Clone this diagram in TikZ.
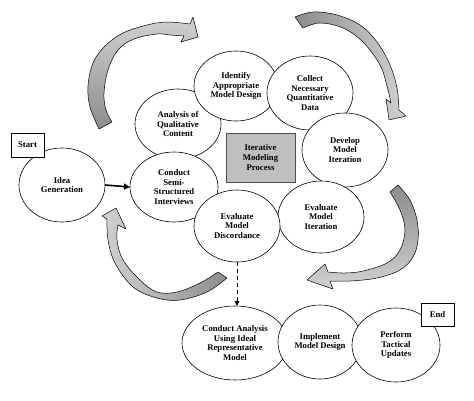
\documentclass[tikz,border=0pt]{standalone}
\usepackage{fontspec}
\setmainfont{Liberation Serif}
\usetikzlibrary{shapes.geometric,arrows.meta}
\definecolor{lightband}{gray}{0.82}
\definecolor{darkband}{gray}{0.55}
\begin{document}
\begin{tikzpicture}[x=1pt,y=-1pt,
  every node/.style={font=\fontsize{8.7}{9.8}\selectfont\bfseries, align=center},
  oval/.style={ellipse, draw, fill=white, line width=0.6pt, inner sep=0pt, outer sep=0pt},
  tag/.style={rectangle, draw, fill=white, line width=0.6pt, inner sep=0pt, minimum width=33pt, minimum height=24pt},
  band/.style={draw, line width=0.5pt, line join=round},
  smoothed/.style={smooth, tension=0.6}
]
\useasboundingbox (0,0) rectangle (474,400);

% curved block arrows
\path[band, top color=lightband, bottom color=darkband]
  plot[smoothed] coordinates {(99,129) (90,107) (88,86) (93,63) (105,46) (123,33) (147,25) (167,22) (190,24)}
  -- (193,17) -- (198,37) -- (181,42)
  -- plot[smoothed] coordinates {(184,36) (170,35) (157,34) (134,39) (118,50) (108,70) (104,93) (106,110) (112,122)}
  -- cycle;
\path[band, left color=darkband, right color=lightband]
  plot[smoothed] coordinates {(295,17) (313,12) (337,15) (360,25) (377,42) (390,65) (397,88) (399,110)}
  -- (406,116) -- (389,120) -- (386,99)
  -- plot[smoothed] coordinates {(391,103) (387,86) (380,65) (363,42) (343,28) (320,23) (303,28)}
  -- cycle;
\path[band, top color=darkband, bottom color=lightband]
  plot[smoothed] coordinates {(398,185) (410,200) (417,220) (418,240) (413,257) (400,270) (377,278) (350,281) (330,281)}
  -- (333,289) -- (307,280) -- (325,264)
  -- plot[smoothed] coordinates {(328,272) (345,273) (363,271) (387,263) (400,250) (405,230) (400,210) (390,192)}
  -- cycle;
\path[band, right color=darkband, left color=lightband]
  plot[smoothed] coordinates {(227,278) (207,292) (180,300) (157,298) (133,287) (115,263) (108,240) (107,219)}
  -- (102,216) -- (116,208) -- (126,229)
  -- plot[smoothed] coordinates {(118,225) (117,240) (123,260) (140,280) (157,292) (177,292) (200,283) (218,272)}
  -- cycle;

% ellipses
\node[oval, minimum width=86pt, minimum height=74pt] (idea) at (62,185) {Idea\\Generation};
\node[oval, minimum width=86pt, minimum height=70pt] (ana) at (178,124) {Analysis of\\Qualitative\\Content};
\node[oval, minimum width=88pt, minimum height=70pt] (semi) at (174,187) {Conduct\\Semi-\\Structured\\Interviews};
\node[oval, minimum width=84pt, minimum height=70pt] (ident) at (236,86) {Identify\\Appropriate\\Model Design};
\node[oval, minimum width=86pt, minimum height=74pt] (coll) at (310,93) {Collect\\Necessary\\Quantitative\\Data};
\node[oval, minimum width=86pt, minimum height=74pt] (dev) at (345,150) {Develop\\Model\\Iteration};
\node[oval, minimum width=86pt, minimum height=72pt] (evit) at (321,217) {Evaluate\\Model\\Iteration};
\node[oval, minimum width=86pt, minimum height=72pt] (disc) at (237,226) {Evaluate\\Model\\Discordance};
\node[oval, minimum width=106pt, minimum height=74pt] (cana) at (235,343) {Conduct Analysis\\Using Ideal\\Representative\\Model};
\node[oval, minimum width=84pt, minimum height=74pt] (impl) at (320,342) {Implement\\Model Design};
\node[oval, minimum width=88pt, minimum height=74pt] (perf) at (396,345) {Perform\\Tactical\\Updates};

% centre box
\node[rectangle, draw=black!70, fill=black!25, line width=0.8pt, minimum width=69pt, minimum height=49pt, inner sep=0pt] (iter) at (260.5,157.5) {Iterative\\Modeling\\Process};

% start / end
\node[tag] (start) at (27.5,145) {Start};
\node[tag, minimum height=23pt] (end) at (437.5,314.5) {End};

% connectors
\draw[line width=1.6pt, -{Triangle[length=6pt,width=6pt]}] (idea.east) -- (semi.west);
\draw[line width=1pt, dash pattern=on 4pt off 3pt, -{Triangle[length=5pt,width=4.5pt]}] (disc.south) -- (disc.south |- cana.north);
\end{tikzpicture}
\end{document}
